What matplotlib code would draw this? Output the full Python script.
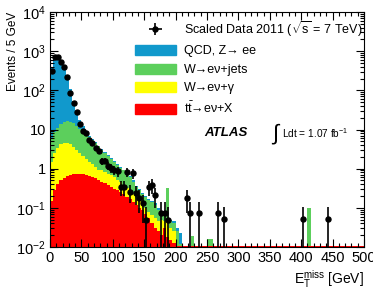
import numpy as np
import matplotlib
matplotlib.use("Agg")
import matplotlib.pyplot as plt
from matplotlib.patches import Patch
from matplotlib.ticker import FixedLocator, FixedFormatter, LogLocator, NullFormatter, MultipleLocator

plt.rcParams['font.family'] = ['Liberation Sans', 'DejaVu Sans']
plt.rcParams['mathtext.fontset'] = 'custom'
plt.rcParams['mathtext.rm'] = 'Liberation Sans'
plt.rcParams['mathtext.it'] = 'Liberation Sans:italic'
plt.rcParams['mathtext.bf'] = 'Liberation Sans:bold'

# MET bins, 5 GeV wide, 0-500 GeV
bin_width = 5
n_bins = 100

# stacked MC, upper edge of each layer (cumulative)
top_ttbar = [0.15, 0.28, 0.40, 0.50, 0.58, 0.65, 0.70, 0.73, 0.75, 0.75,
             0.73, 0.70, 0.66, 0.62, 0.57, 0.52, 0.46, 0.42, 0.38, 0.34,
             0.31, 0.28, 0.25, 0.22, 0.19, 0.165, 0.14, 0.12, 0.10, 0.088,
             0.07, 0.055, 0.04, 0.03, 0.025, 0.02, 0.03, 0.018, 0.015, 0.013] + [0.0103] * 60
top_wgamma = [1.5, 2.5, 3.4, 4.2, 4.6, 4.6, 4.2, 3.6, 3.0, 2.5,
              2.1, 1.8, 1.5, 1.3, 1.1, 0.95, 0.9, 0.82, 0.75, 0.68,
              0.6, 0.52, 0.45, 0.38, 0.32, 0.27, 0.22, 0.18, 0.15, 0.12,
              0.10, 0.08, 0.065, 0.055, 0.045, 0.05, 0.045, 0.05, 0.03, 0.025] + [0.0103] * 60
top_wjets = [6, 8.5, 11, 13.5, 15.5, 16.5, 16, 14.5, 12, 10.5,
             9, 7.5, 6.3, 5.5, 4.5, 3.8, 3.0, 2.5, 2.1, 1.8,
             1.5, 1.26, 1.05, 0.9, 0.78, 0.62, 0.45, 0.35, 0.28, 0.23,
             0.19, 0.16, 0.14, 0.12, 0.09, 0.072, 0.065, 0.32, 0.045, 0.04,
             0.025, 0.012, 0, 0, 0, 0.019, 0, 0, 0, 0,
             0.016, 0.016, 0, 0, 0, 0, 0, 0, 0, 0,
             0, 0, 0, 0, 0, 0, 0, 0, 0, 0,
             0, 0, 0, 0, 0, 0, 0, 0, 0, 0,
             0, 0, 0.098, 0, 0, 0, 0, 0, 0, 0,
             0, 0, 0, 0, 0, 0, 0, 0, 0, 0]
top_qcd = [400, 800, 780, 600, 400, 230, 110, 55, 30, 18,
           12, 9, 7, 5.8, 4.7, 3.9, 3.1, 2.6, 2.2, 1.85,
           1.55, 1.3, 1.1, 0.95, 0.8, 0.66, 0.5, 0.37, 0.3, 0.24,
           0.2, 0.17, 0.15, 0.13, 0.1, 0.08, 0.07, 0.33, 0.05, 0.045,
           0.03, 0.023, 0, 0, 0, 0.019, 0, 0, 0, 0,
           0.016, 0.016, 0, 0, 0, 0, 0, 0, 0, 0,
           0, 0, 0, 0, 0, 0, 0, 0, 0, 0,
           0, 0, 0, 0, 0, 0, 0, 0, 0, 0,
           0, 0, 0.098, 0, 0, 0, 0, 0, 0, 0,
           0, 0, 0, 0, 0, 0, 0, 0, 0, 0]

# scaled data
data = [316, 716, 716, 533, 400, 221, 88, 47, 28, 13.7,
        9.3, 8.1, 5.5, 4.5, 3.4, 2.76, 1.53, 1.6, 1.2, 1.03,
        0.94, 0.85, 0.345, 0.345, 0.83, 0.258, 0.76, 0.234, 0.175, 0.13,
        0.05, 0.345, 0.38, 0.21, 0, 0.075, 0.075, 0.05, 0, 0,
        0, 0, 0, 0.175, 0.075, 0, 0, 0.075, 0, 0,
        0, 0, 0, 0.075, 0, 0.051, 0, 0, 0, 0,
        0, 0, 0, 0, 0, 0, 0, 0, 0, 0,
        0, 0, 0, 0, 0, 0, 0, 0, 0, 0,
        0.051, 0, 0, 0, 0, 0, 0, 0, 0.051, 0,
        0, 0, 0, 0, 0, 0, 0, 0, 0, 0]
event_weight = 0.06

colors = {'qcd': '#1199cc', 'wjets': '#5ccf5c', 'wgamma': '#ffff00', 'ttbar': '#ff0000'}

edges = np.arange(n_bins + 1) * bin_width
centers = edges[:-1] + bin_width / 2

layers = [np.array(top_ttbar), np.array(top_wgamma), np.array(top_wjets), np.array(top_qcd)]
for i in range(1, 4):
    layers[i] = np.maximum(layers[i], layers[i - 1])
names = ['ttbar', 'wgamma', 'wjets', 'qcd']

fig = plt.figure(figsize=(3.73, 2.90), dpi=100)
ax = fig.add_axes([50 / 373, 1 - 247 / 290, 314 / 373, 235 / 290])

base = np.full(n_bins, 1e-4)
for name, top in zip(names, layers):
    ax.stairs(top, edges, baseline=base, fill=True, color=colors[name], lw=0)
    base = top

d = np.array(data)
m = d > 0
err = np.sqrt(d[m] * event_weight)
lo = np.minimum(err, d[m] - 1e-4)
eb = ax.errorbar(centers[m], d[m], yerr=[lo, err], xerr=bin_width / 2, fmt='o',
                 color='black', ms=3.6, elinewidth=1.2, capsize=0)

ax.set_yscale('log')
ax.set_xlim(0, 500)
ax.set_ylim(1e-2, 1e4)

ax.xaxis.set_major_locator(MultipleLocator(50))
ax.xaxis.set_minor_locator(MultipleLocator(10))
ax.yaxis.set_major_locator(FixedLocator([1e-2, 1e-1, 1, 10, 1e2, 1e3, 1e4]))
ax.yaxis.set_major_formatter(FixedFormatter(['10$^{-2}$', '10$^{-1}$', '1', '10',
                                             '10$^{2}$', '10$^{3}$', '10$^{4}$']))
ax.yaxis.set_minor_locator(LogLocator(base=10, subs=np.arange(2, 10), numticks=20))
ax.yaxis.set_minor_formatter(NullFormatter())
ax.tick_params(which='both', direction='in', top=True, right=True, labelsize=10.5, width=0.8)
ax.tick_params(which='major', length=6, pad=3)
ax.tick_params(which='minor', length=3)
for s in ax.spines.values():
    s.set_linewidth(0.8)

ax.set_ylabel('Events / 5 GeV', fontsize=8.5, loc='top')
ax.yaxis.set_label_coords(-0.1, 1.0)
ax.set_xlabel('E$_{\\rm T}^{\\rm miss}$ [GeV]', fontsize=10, ha='right')
ax.xaxis.set_label_coords(1.0, -0.09)

handles = [eb,
           Patch(color=colors['qcd']),
           Patch(color=colors['wjets']),
           Patch(color=colors['wgamma']),
           Patch(color=colors['ttbar'])]
labels = ['Scaled Data 2011 ($\\sqrt{\\rm s}$ = 7 TeV)',
          'QCD, Z\u2192 ee',
          'W\u2192e\u03bd+jets',
          'W\u2192e\u03bd+\u03b3',
          't$\\bar{\\rm t}$\u2192e\u03bd+X']
ax.legend(handles, labels, loc='upper left', bbox_to_anchor=(0.27, 0.97), frameon=False,
          fontsize=9, handlelength=3.3, handleheight=0.85, labelspacing=0.5,
          handletextpad=0.6, borderpad=0, borderaxespad=0)

ax.text(0.49, 0.485, 'ATLAS', transform=ax.transAxes, fontsize=9.5, fontweight='bold',
        style='italic', va='center')
ax.text(0.705, 0.48, '$\\int$', transform=ax.transAxes, fontsize=16, va='center')
ax.text(0.74, 0.485, 'Ldt = 1.07 fb$^{-1}$', transform=ax.transAxes, fontsize=7.3, va='center')

fig.savefig('out.png', dpi=100)
